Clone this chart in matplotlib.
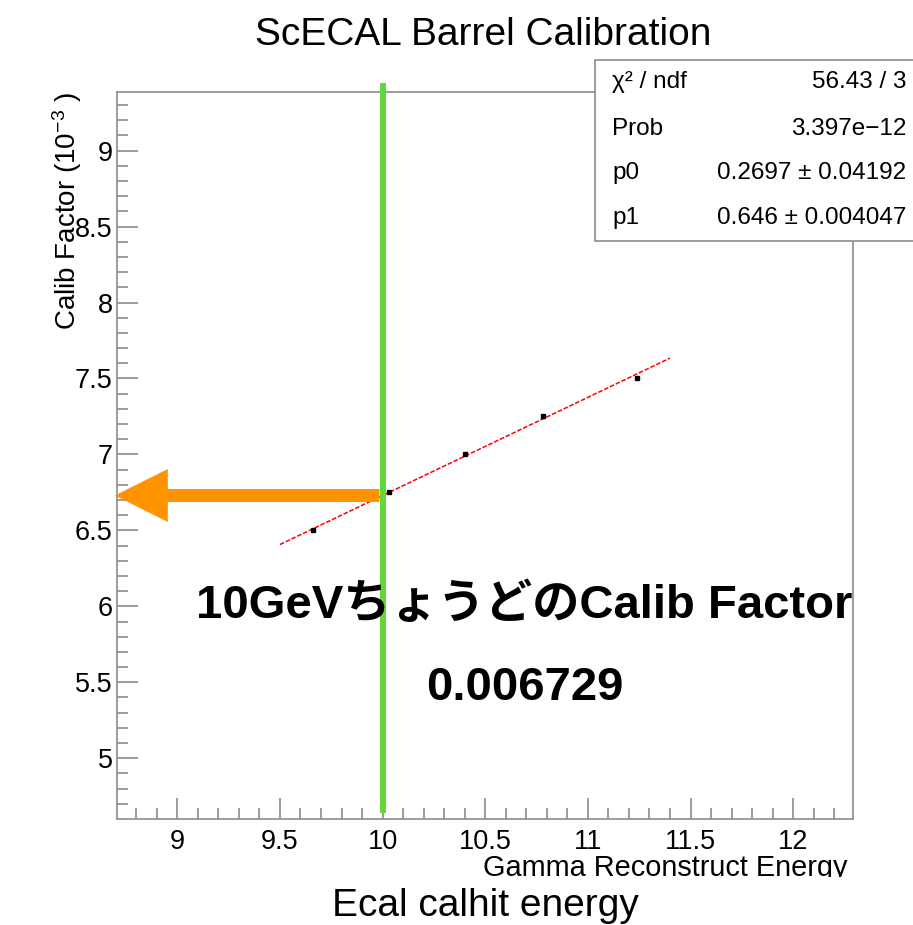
import numpy as np
import matplotlib
matplotlib.use("Agg")
import matplotlib.pyplot as plt
from matplotlib.patches import Rectangle
from matplotlib.ticker import MultipleLocator, FuncFormatter

# data points
energy = [9.66, 10.03, 10.40, 10.78, 11.24]
calib = [6.50, 6.75, 7.00, 7.25, 7.50]

# fit result (pol1) and its range
p0, p1 = 0.2697, 0.646
fit_lo, fit_hi = 9.5, 11.4
stats_names = ["χ² / ndf", "Prob", "p0", "p1"]
stats_vals = ["56.43 / 3", "3.397e−12", "0.2697 ± 0.04192", "0.646 ± 0.004047"]

e_mark = 10.0
calib_at_mark = 0.006729

plt.rcParams['font.family'] = ['Liberation Sans', 'DejaVu Sans']
plt.rcParams['mathtext.fontset'] = 'custom'
plt.rcParams['mathtext.rm'] = 'Liberation Sans'
plt.rcParams['mathtext.it'] = 'Liberation Sans:italic'

W, H = 913, 925
def fx(px):
    return px / W
def fy(py):
    return 1 - py / H

fig = plt.figure(figsize=(W / 100, H / 100), dpi=100)
ax = fig.add_axes([fx(116.7), fy(818.7), fx(852.7) - fx(116.7), fy(92) - fy(818.7)])

grey = '#8c8c8c'
for s in ax.spines.values():
    s.set_color(grey)
    s.set_linewidth(1.2)

ax.set_xlim(8.705, 12.29)
ax.set_ylim(4.602, 9.386)
ax.xaxis.set_major_locator(MultipleLocator(0.5))
ax.xaxis.set_minor_locator(MultipleLocator(0.1))
ax.yaxis.set_major_locator(MultipleLocator(0.5))
ax.yaxis.set_minor_locator(MultipleLocator(0.1))
fmt = FuncFormatter(lambda v, p: '%g' % v)
ax.xaxis.set_major_formatter(fmt)
ax.yaxis.set_major_formatter(fmt)
ax.tick_params(which='both', direction='in', color=grey, width=1.2, labelsize=19.5)
ax.tick_params(which='major', length=15)
ax.tick_params(which='minor', length=8)
ax.tick_params(axis='x', pad=7.5)
ax.tick_params(axis='y', pad=3)

# fit line + points
xf = np.linspace(fit_lo, fit_hi, 2)
ax.plot(xf, p0 + p1 * xf, color='red', lw=1.1, ls=(0, (3, 1.2)))
ax.plot(energy, calib, 's', color='black', ms=2.5)

# green marker at 10 GeV
ax.plot([e_mark, e_mark], [4.642, 9.444], color='#61d836', lw=4.3,
        solid_capstyle='butt', clip_on=False, zorder=6)

# orange arrow towards the y axis
y_mark = p0 + p1 * e_mark
ax.arrow(9.985, y_mark, 8.696 - 9.985, 0, width=0.0856, head_width=0.349,
         head_length=0.258, length_includes_head=True, color='#ff9300',
         lw=0, clip_on=False, zorder=5)

# titles / labels
fig.text(fx(483), fy(45), 'ScECAL Barrel Calibration', fontsize=28,
         ha='center', va='baseline')
fig.text(fx(67), fy(92), r'Calib Factor (10$^{-3}$ )', fontsize=20,
         rotation=90, ha='center', va='top')
fig.text(fx(847), fy(876.5), 'Gamma Reconstruct Energy', fontsize=20.8,
         ha='right', va='baseline')

# stats box
fig.add_artist(Rectangle((fx(595), fy(240.7)), fx(940) - fx(595), fy(60) - fy(240.7),
                         transform=fig.transFigure, facecolor='white',
                         edgecolor=grey, lw=1.2, zorder=7))
rows_y = [82, 129, 173, 218]
for name, val, ry in zip(stats_names, stats_vals, rows_y):
    fig.text(fx(612), fy(ry), name, fontsize=17.5, ha='left', va='center', zorder=8)
    fig.text(fx(906), fy(ry), val, fontsize=17.5, ha='right', va='center', zorder=8)

# annotation text
jp = ['Liberation Sans', 'Noto Sans CJK JP']
fig.text(fx(524), fy(618), '10GeVちょうどのCalib Factor', fontsize=34,
         fontweight='bold', family=jp, ha='center', va='baseline', zorder=4)
fig.text(fx(525), fy(700), '%.6f' % calib_at_mark, fontsize=34,
         fontweight='bold', family=jp, ha='center', va='baseline', zorder=4)

# cropped screenshot edge + caption below
fig.add_artist(Rectangle((0, 0), 1, fy(877), transform=fig.transFigure,
                         facecolor='white', edgecolor='none', zorder=10))
fig.text(fx(485), fy(916), 'Ecal calhit energy', fontsize=28,
         ha='center', va='baseline', zorder=11)

fig.savefig('out.png', dpi=100)
